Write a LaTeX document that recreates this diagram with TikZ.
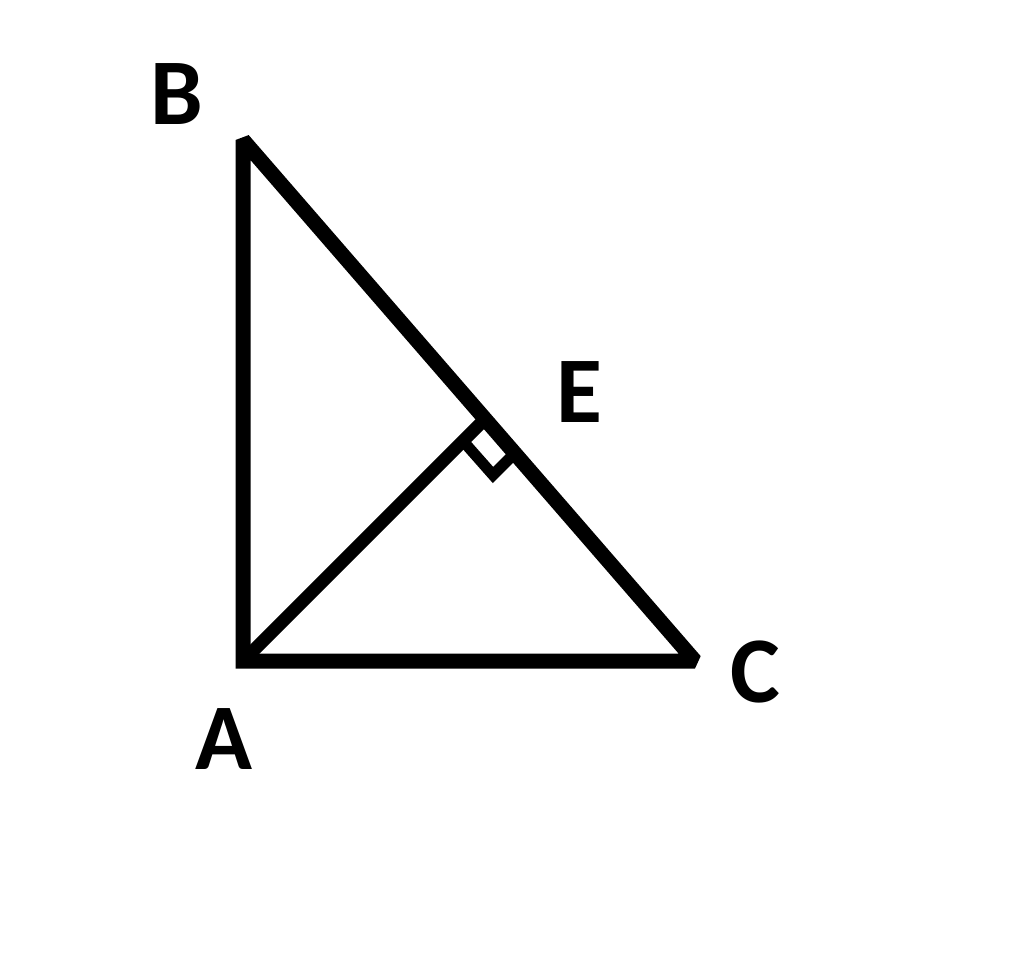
\documentclass[tikz,border=0pt]{standalone}
\usepackage{fontspec}
\setmainfont{Carlito}
\begin{document}
\begin{tikzpicture}[x=1pt,y=-1pt,
  lbl/.style={inner sep=0pt,font=\fontsize{94}{94}\selectfont\bfseries},
  edge/.style={line width=15pt,line join=miter,miter limit=2},
  rightmark/.style={line width=11pt,line join=miter}]
\useasboundingbox (0,0) rectangle (1024,954);
\coordinate (A) at (243,661);
\coordinate (B) at (243,140);
\coordinate (C) at (695,661);
\coordinate (E) at (485,419);
\coordinate (P1) at (463,441);
\coordinate (P2) at (515,453);
\coordinate (Q) at (493,475);
\draw[edge] (A) -- (B) -- (C) -- cycle;
\draw[line width=13pt] (A) -- (E);
\draw[rightmark] (P1) -- (Q) -- (P2);
\node[lbl] (lB) at (177,94) {B};
\node[lbl] (lE) at (579,392) {E};
\node[lbl] (lC) at (755,672) {C};
\node[lbl] (lA) at (224,739) {A};
\end{tikzpicture}
\end{document}
